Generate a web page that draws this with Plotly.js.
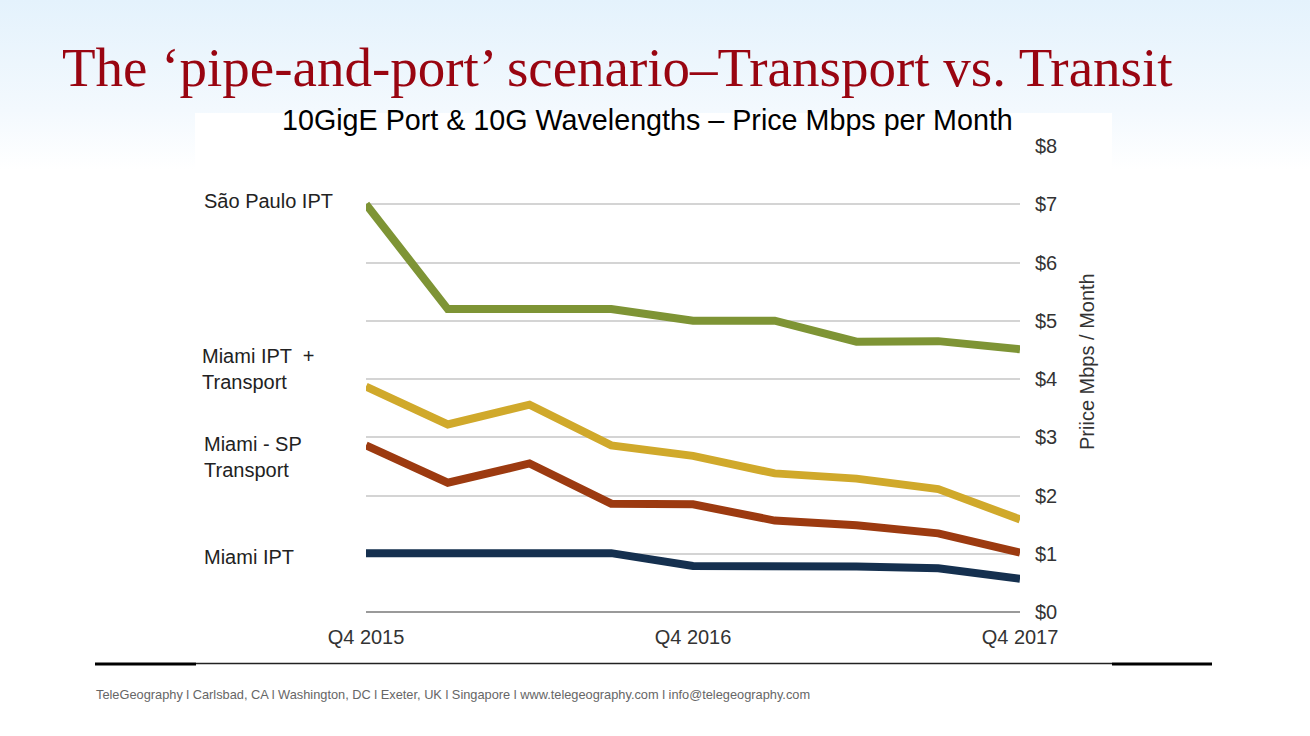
<!DOCTYPE html>
<html>
<head>
<meta charset="utf-8">
<script src="https://cdn.plot.ly/plotly-3.0.1.min.js"></script>
<style>
html,body{margin:0;padding:0;width:1310px;height:736px;overflow:hidden;
background:linear-gradient(to bottom,#e4f2fc 0px,#f3f9fe 110px,#ffffff 170px,#ffffff 736px);}
#chart{width:1310px;height:736px;}
</style>
</head>
<body>
<div id="chart"></div>
<script>
var quarters = ["Q4 2015","Q1 2016","Q2 2016","Q3 2016","Q4 2016","Q1 2017","Q2 2017","Q3 2017","Q4 2017"];
var tickLabels = ["Q4 2015","Q4 2016","Q4 2017"];
var saoPauloIPT = [7.0, 5.2, 5.2, 5.2, 5.0, 5.0, 4.64, 4.65, 4.51];
var miamiIPTTransport = [3.87, 3.22, 3.56, 2.86, 2.68, 2.38, 2.29, 2.11, 1.59];
var miamiSPTransport = [2.86, 2.22, 2.55, 1.86, 1.85, 1.57, 1.49, 1.35, 1.02];
var miamiIPT = [1.01, 1.01, 1.01, 1.01, 0.79, 0.79, 0.78, 0.75, 0.57];
var yTicks = [0,1,2,3,4,5,6,7,8];
var yTickText = ["$0","$1","$2","$3","$4","$5","$6","$7","$8"];

var PL = 366, PR = 1020, PT = 146, PB = 612;
function px(x){ return (x - PL) / (PR - PL); }
function py(y){ return (PB - y) / (PB - PT); }

function series(name, vals, color){
  return {type:'scatter', mode:'lines', name:name, x:quarters, y:vals,
    line:{color:color, width:8, shape:'linear'}, hoverinfo:'x+y+name'};
}
var data = [
  series('São Paulo IPT', saoPauloIPT, '#7e9435'),
  series('Miami IPT + Transport', miamiIPTTransport, '#d0a92b'),
  series('Miami - SP Transport', miamiSPTransport, '#9c3a10'),
  series('Miami IPT', miamiIPT, '#15304f')
];

var sans = 'Liberation Sans, Arial, sans-serif';
var labelFont = {family:sans, size:20, color:'#222'};
var annotations = [
  {text:"The ‘pipe-and-port’ scenario–Transport vs. Transit", x:px(60), y:py(67), xanchor:'left', yanchor:'middle',
   font:{family:'Liberation Serif, Times New Roman, serif', size:55, color:'#990511'}},
  {text:"10GigE Port & 10G Wavelengths – Price Mbps per Month", x:px(647), y:py(120), xanchor:'center', yanchor:'middle',
   font:{family:sans, size:28.7, color:'#000'}},
  {text:"São Paulo IPT", x:px(202), y:py(201), xanchor:'left', yanchor:'middle', align:'left', font:labelFont},
  {text:"Miami IPT  +<br>Transport", x:px(200), y:py(369), xanchor:'left', yanchor:'middle', align:'left', font:labelFont},
  {text:"Miami - SP<br>Transport", x:px(202), y:py(457), xanchor:'left', yanchor:'middle', align:'left', font:labelFont},
  {text:"Miami IPT", x:px(202), y:py(557), xanchor:'left', yanchor:'middle', align:'left', font:labelFont},
  {text:"Priice Mbps / Month", x:px(1087), y:py(362), xanchor:'center', yanchor:'middle', textangle:-90,
   font:{family:sans, size:20, color:'#333'}},
  {text:"TeleGeography l Carlsbad, CA l Washington, DC l Exeter, UK l Singapore l www.telegeography.com l info@telegeography.com",
   x:px(94), y:py(694), xanchor:'left', yanchor:'middle', align:'left',
   font:{family:sans, size:12.8, color:'#666'}}
];
annotations.forEach(function(a){ a.xref='paper'; a.yref='paper'; a.showarrow=false; });

var layout = {
  width:1310, height:736,
  margin:{l:PL, r:1310-PR, t:PT, b:736-PB, pad:0},
  paper_bgcolor:'rgba(0,0,0,0)', plot_bgcolor:'rgba(0,0,0,0)',
  showlegend:false,
  xaxis:{type:'category', range:[0, quarters.length-1], tickmode:'array', tickvals:tickLabels, ticktext:tickLabels,
    showgrid:false, zeroline:false, showline:false, ticks:'',
    tickfont:{family:sans, size:20, color:'#333'}, ticklabelstandoff:11},
  yaxis:{range:[0,8], side:'right', tickmode:'array', tickvals:yTicks, ticktext:yTickText,
    showgrid:true, gridcolor:'#d4d4d4', gridwidth:2, zeroline:true, zerolinecolor:'#9a9a9a', zerolinewidth:2,
    showline:false, ticks:'', ticklabelstandoff:14,
    tickfont:{family:sans, size:20, color:'#333'}},
  shapes:[
    {type:'rect', xref:'paper', yref:'paper', x0:px(195), x1:px(1112), y0:py(663), y1:py(113),
     fillcolor:'#ffffff', line:{width:0}, layer:'below'},
    {type:'line', xref:'paper', yref:'paper', x0:px(95), x1:px(196), y0:py(664), y1:py(664),
     line:{color:'#000', width:3}, layer:'above'},
    {type:'line', xref:'paper', yref:'paper', x0:px(1112), x1:px(1212), y0:py(664), y1:py(664),
     line:{color:'#000', width:3}, layer:'above'},
    {type:'line', xref:'paper', yref:'paper', x0:px(196), x1:px(1112), y0:py(663.5), y1:py(663.5),
     line:{color:'#222', width:1.6}, layer:'above'}
  ],
  annotations:annotations
};
Plotly.newPlot('chart', data, layout, {displayModeBar:false, staticPlot:true});
</script>
</body>
</html>
